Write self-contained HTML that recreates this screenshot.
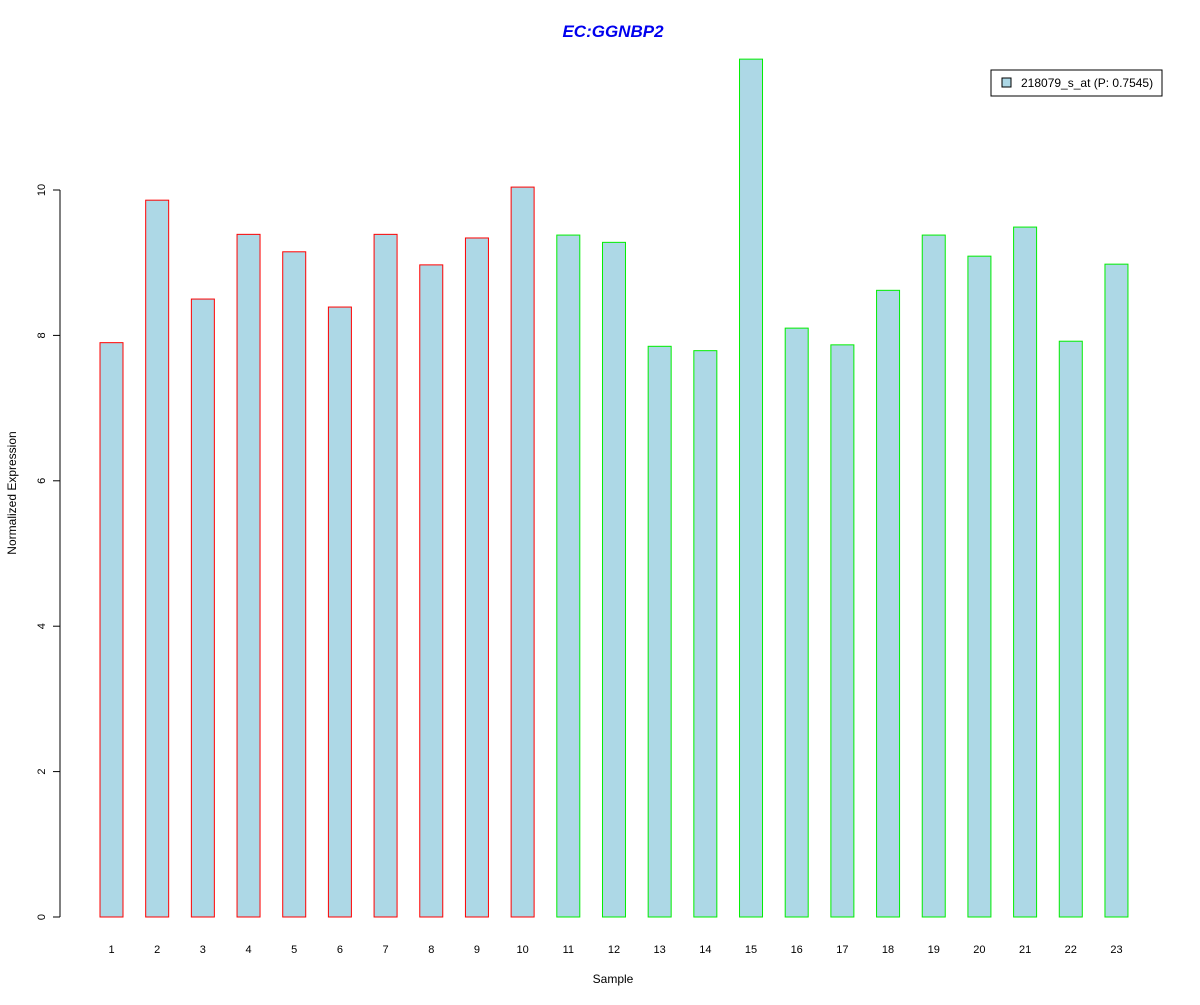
<!DOCTYPE html>
<html><head><meta charset="utf-8"><style>
body{margin:0;background:#fff}
svg text{font-family:"Liberation Sans",sans-serif}
</style></head><body>
<svg id="chart" width="1200" height="1000" xmlns="http://www.w3.org/2000/svg">
<rect width="1200" height="1000" fill="#fff"/>
<text x="613" y="37" text-anchor="middle" font-size="17" font-weight="bold" font-style="italic" fill="#0000ee">EC:GGNBP2</text>
<text x="613" y="983" text-anchor="middle" font-size="12">Sample</text>
<text transform="translate(16,493) rotate(-90)" text-anchor="middle" font-size="12">Normalized Expression</text>
<g id="yaxis"></g>
<g id="bars"></g>
<g id="xlabels"></g>
<g>
<rect x="991" y="70" width="171" height="26" fill="#fff" stroke="#000"/>
<rect x="1002" y="78" width="9" height="9" fill="#add8e6" stroke="#000"/>
<text x="1021" y="87" font-size="12">218079_s_at (P: 0.7545)</text>
</g>
</svg>
<script>
const categories=["1","2","3","4","5","6","7","8","9","10","11","12","13","14","15","16","17","18","19","20","21","22","23"];
const values=[7.90,9.86,8.50,9.39,9.15,8.39,9.39,8.97,9.34,10.04,9.38,9.28,7.85,7.79,11.80,8.10,7.87,8.62,9.38,9.09,9.49,7.92,8.98];
const groupColors=["#ff0000","#ff0000","#ff0000","#ff0000","#ff0000","#ff0000","#ff0000","#ff0000","#ff0000","#ff0000","#00ee00","#00ee00","#00ee00","#00ee00","#00ee00","#00ee00","#00ee00","#00ee00","#00ee00","#00ee00","#00ee00","#00ee00","#00ee00"];
const yTicks=[0,2,4,6,8,10];
const NS="http://www.w3.org/2000/svg";
const y0=917,pxPer=72.7;
function yScale(v){return y0-v*pxPer;}
function xScale(i){return 111.5+i*45.68;}
function mk(t,a){const e=document.createElementNS(NS,t);for(const k in a)e.setAttribute(k,a[k]);return e;}
const ya=document.getElementById('yaxis');
const axl=mk('line',{x1:60,x2:60,y1:yScale(0),y2:yScale(10),stroke:'#000'});


ya.appendChild(axl);
yTicks.forEach(t=>{
const l=mk('line',{x1:53,x2:60,y1:yScale(t),y2:yScale(t),stroke:'#000'});


ya.appendChild(l);
const tx=mk('text',{transform:`translate(45,${yScale(t)}) rotate(-90)`,'text-anchor':'middle','font-size':'11'});


tx.textContent=t;ya.appendChild(tx);
});
const bg=document.getElementById('bars'),xl=document.getElementById('xlabels');
values.forEach((v,i)=>{
const r=mk('rect',{x:xScale(i)-11.5,y:yScale(v),width:23,height:yScale(0)-yScale(v),fill:'#add8e6',stroke:groupColors[i]});


bg.appendChild(r);
const t=mk('text',{x:xScale(i),y:953,'text-anchor':'middle','font-size':'11'});


t.textContent=categories[i];xl.appendChild(t);
});
</script>
</body></html>
